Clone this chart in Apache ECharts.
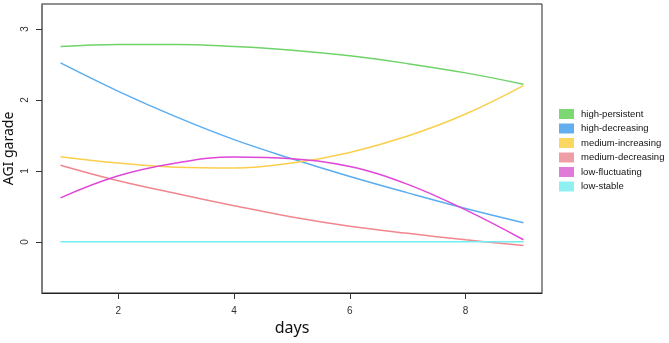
<!DOCTYPE html>
<html>
<head>
<meta charset="utf-8">
<script src="https://cdn.jsdelivr.net/npm/echarts@6/dist/echarts.min.js"></script>
<style>
  * { margin: 0; padding: 0; }
  body { background: #fff; }
  #chart { width: 669px; height: 343px; }
</style>
</head>
<body>
<div id="chart"></div>
<script>
  // data
  const days = [1, 2, 3, 4, 5, 6, 7, 8, 9];
  const highPersistent = [2.75, 2.78, 2.78, 2.75, 2.70, 2.62, 2.51, 2.38, 2.22];
  const highDecreasing = [2.52, 2.12, 1.76, 1.44, 1.17, 0.92, 0.69, 0.47, 0.27];
  const mediumIncreasing = [1.20, 1.11, 1.05, 1.04, 1.11, 1.26, 1.49, 1.80, 2.20];
  const mediumDecreasing = [1.08, 0.86, 0.68, 0.51, 0.35, 0.22, 0.12, 0.03, -0.05];
  const lowFluctuating = [0.62, 0.93, 1.11, 1.195, 1.17, 1.06, 0.81, 0.45, 0.03];
  const lowStable = [0, 0, 0, 0, 0, 0, 0, 0, 0];
  const xTicks = [2, 4, 6, 8];
  const yTicks = [0, 1, 2, 3];

  const groups = [
    { name: 'high-persistent', values: highPersistent, color: '#6fd36a', swatch: '#7dd873' },
    { name: 'high-decreasing', values: highDecreasing, color: '#5aadf0', swatch: '#62aeee' },
    { name: 'medium-increasing', values: mediumIncreasing, color: '#fbcf4c', swatch: '#fbd660' },
    { name: 'medium-decreasing', values: mediumDecreasing, color: '#f2868f', swatch: '#f09ea6' },
    { name: 'low-fluctuating', values: lowFluctuating, color: '#e046d8', swatch: '#e07bda' },
    { name: 'low-stable', values: lowStable, color: '#70eef0', swatch: '#8ef0f1' }
  ];

  const myChart = echarts.init(document.getElementById('chart'));
  const option = {
    animation: false,
    grid: {
      left: 42, top: 4, right: 127, bottom: 50,
      containLabel: false,
      outerBoundsMode: 'none',
      show: true, borderColor: '#222', borderWidth: 1
    },
    legend: {
      orient: 'vertical',
      left: 559,
      top: 109,
      padding: 0,
      icon: 'rect',
      itemWidth: 15,
      itemHeight: 10,
      itemGap: 4.5,
      textStyle: { fontFamily: 'Liberation Sans', fontSize: 9.5, color: '#111', padding: [0, 0, 0, 2] },
      data: groups.map(g => ({ name: g.name, itemStyle: { color: g.swatch } }))
    },
    xAxis: {
      type: 'value',
      min: 0.68,
      max: 9.32,
      name: 'days',
      nameLocation: 'middle',
      nameGap: 27,
      nameMoveOverlap: false,
      nameTextStyle: { fontFamily: 'Noto Sans', fontSize: 16, color: '#111' },
      axisLine: { show: true, onZero: false, lineStyle: { color: '#222', width: 1 } },
      axisTick: { show: true, customValues: xTicks, length: 6, lineStyle: { color: '#333', width: 1 } },
      axisLabel: { customValues: xTicks, margin: 13, fontFamily: 'Liberation Sans', fontSize: 10, color: '#333' },
      splitLine: { show: false }
    },
    yAxis: {
      type: 'value',
      min: -0.72,
      max: 3.35,
      name: 'AGI garade',
      nameLocation: 'middle',
      nameGap: 26,
      nameMoveOverlap: false,
      nameTextStyle: { fontFamily: 'Noto Sans', fontSize: 14, color: '#111' },
      axisLine: { show: true, onZero: false, lineStyle: { color: '#777', width: 1.5 } },
      axisTick: { show: true, customValues: yTicks, length: 6, lineStyle: { color: '#333', width: 1 } },
      axisLabel: { customValues: yTicks, rotate: 90, margin: 12, fontFamily: 'Liberation Sans', fontSize: 10, color: '#333' },
      splitLine: { show: false }
    },
    series: groups.map(g => ({
      name: g.name,
      type: 'line',
      smooth: 0.4,
      showSymbol: false,
      lineStyle: { width: 1.5, color: g.color },
      itemStyle: { color: g.color },
      data: days.map((d, i) => [d, g.values[i]])
    }))
  };
  myChart.setOption(option);
</script>
</body>
</html>
